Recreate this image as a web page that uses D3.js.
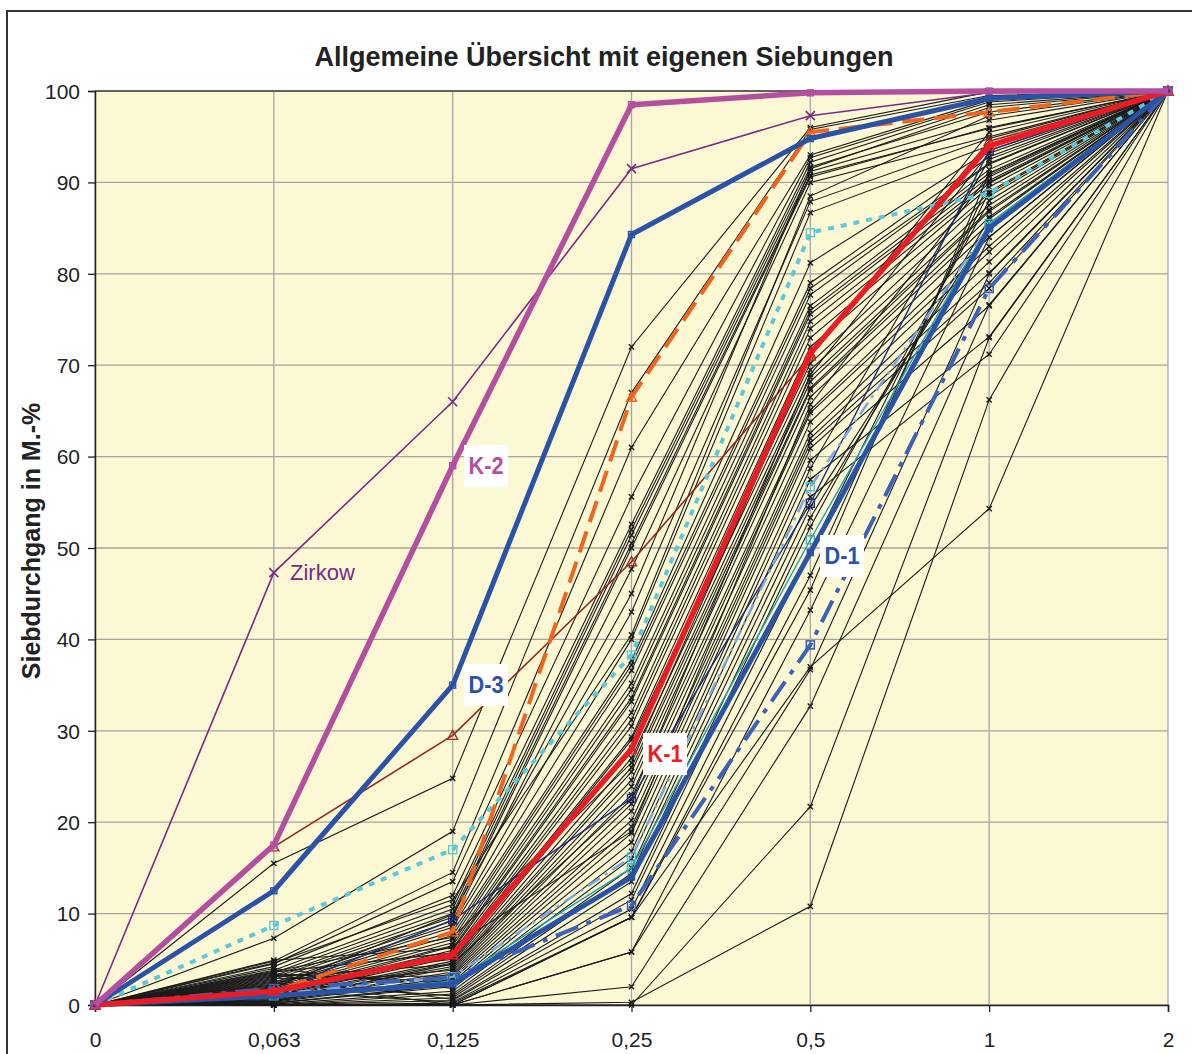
<!DOCTYPE html>
<html><head><meta charset="utf-8">
<script src="https://cdn.jsdelivr.net/npm/d3@7"></script>
<style>
body{margin:0;background:#fff;}
svg{display:block;font-family:"Liberation Sans",Arial,sans-serif;}
</style></head>
<body><svg id="chart" width="1192" height="1054"></svg>
<script>
// ---- data ----
const categories = ["0","0,063","0,125","0,25","0,5","1","2"];
const yTicks = [0,10,20,30,40,50,60,70,80,90,100];

// black sieve curves (values at 0,063 / 0,125 / 0,25 / 0,5 / 1); start 0, end 100
const blackSeries = [
  [15.5,24.8,72,96,99.9],[7.3,19,67,95.8,99.5],[4.8,14.5,61,93,99],[4.5,13.5,55.6,92.7,98.8],
  [4.2,12,52.6,92.2,98.5],[3.8,11,52,91.7,97.7],[3.5,10.5,51.4,91.2,96.8],[3.2,10,50.5,90.8,95.9],
  [3,9.6,50,90.6,96],[2.8,9.2,47.7,90,95],[2.5,8.8,43,87.9,94.8],[2.3,8.5,40,86.7,94],
  [2.2,8,37.7,81.2,93.5],[2,7.6,37.2,79,92.8],[1.8,7.2,36.6,78.4,92.1],[1.7,6.8,35.2,77.7,92],
  [1.5,6.5,34.5,76.5,91.4],[4.9,6.2,33.6,76,91],[1.3,6,33.2,75.6,90.6],[3.6,5.7,32,74.8,90.2],
  [1.1,5.4,31.2,74,89.9],[1,5.2,30.5,73,89.5],[2.6,5,29.3,72,88.8],[0.9,4.8,29,70.2,88.5],
  [0.8,4.6,28.1,69.5,87.5],[3.1,4.4,27,68.7,87],[0.7,4.2,26,68.2,86.8],[0.6,4,25.5,67.5,86.2],
  [2.1,3.8,24.6,67.3,85.5],[0.5,3.6,23.9,66.5,84.8],[0.5,3.4,23,65.1,84],[2.9,3.2,22,64.8,83],
  [0.4,3,21.2,63.8,82.4],[0.3,2.8,20.2,62.6,81.3],[3.4,2.5,19.5,62,80.1],[0.2,2.2,18.8,61.5,79],
  [0.2,2,17.8,60.9,78.4],[4,1.8,16.8,59.6,76.5],[0.1,1.5,16,58.7,92.5],[0,1.2,15,57.5,73.1],
  [2.4,1,14.4,55.6,71.2],[0,0.8,13.5,54.5,85],[3.3,0.6,12.2,53.3,86],[0,0.5,11.5,52.3,88],
  [1.6,0.3,10.5,49.6,89],[0,0.2,9.6,47,90],[2.7,0,9.6,45.4,91],[0,0,5.8,43.2,84],
  [0,0,2,32.7,76.6],[0,0,0.3,10.8,66.2],[0,0,0,21.7,73],[0,0,9.6,37,54.3],
  [0,0,5.8,36.7,80],[4.6,11.5,40.5,88.5,97.3],[1.9,9.9,45,91.5,98.2],[0.4,4.5,22.5,69,93.2],
  [3.7,7.4,26.5,71,95.5],[1.2,6.4,19,65.7,90.8]
];

const zirkow   = [0,47.3,66,91.5,97.3,99.8,100];
const k2       = [0,17.5,59,98.5,99.8,100,100];
const d3s      = [0,12.5,35,84.3,94.8,99.2,100];
const brownTri = [0,17.3,29.5,48.5,71,94.5,100];
const orangeDash = [0,1.5,8,66.5,95.5,97.7,100];
const cyanDot  = [0,8.7,17,38.3,84.5,88.8,100];
const blueDashDot = [0,1.8,3,10.9,39.4,78.4,100];
const lightBlueDashDot = [0,1.2,3.1,16.2,56.7,85.2,100];
const navyThin = [0,1.5,9.3,22.6,54.9,93.5,100];
const tealThin = [0,1,2.6,15,50.9,85.5,100];
const k1       = [0,1.5,5.5,28,71.3,94,100];
const d1       = [0,1,2.3,14,49.5,85,100];

// ---- drawing ----
const svg = d3.select("#chart");
const x = d3.scalePoint().domain(categories).range([95,1168]);
const y = d3.scaleLinear().domain([0,100]).range([1005,91]);

svg.append("rect").attr("x",7).attr("y",11).attr("width",1200).attr("height",1100)
  .attr("fill","#fff").attr("stroke","#333").attr("stroke-width",2);

svg.append("rect").attr("x",x(categories[0])).attr("y",y(100))
  .attr("width",x(categories[6])-x(categories[0])).attr("height",y(0)-y(100))
  .attr("fill","#FBF8D3");

const grid = svg.append("g");
yTicks.forEach(t=>grid.append("line").attr("x1",x(categories[0])).attr("x2",x(categories[6]))
  .attr("y1",y(t)).attr("y2",y(t)).attr("stroke","#A5A5A0").attr("stroke-width",1.3));
categories.forEach(c=>grid.append("line").attr("x1",x(c)).attr("x2",x(c))
  .attr("y1",y(0)).attr("y2",y(100)).attr("stroke","#A5A5A5").attr("stroke-width",1.3));
svg.append("line").attr("x1",x(categories[0])).attr("x2",x(categories[6]))
  .attr("y1",y(100)).attr("y2",y(100)).attr("stroke","#444").attr("stroke-width",1.3);

const yAxis = svg.append("g").attr("transform",`translate(${x(categories[0])},0)`)
  .call(d3.axisLeft(y).tickValues(yTicks).tickSize(7).tickPadding(8));
const xAxis = svg.append("g").attr("transform",`translate(0,${y(0)})`)
  .call(d3.axisBottom(x).tickSize(7).tickPadding(20));
[yAxis,xAxis].forEach(a=>{
  a.selectAll("path").attr("stroke","#222").attr("stroke-width",1.5);
  a.selectAll("line").attr("stroke","#222").attr("stroke-width",1.3);
  a.selectAll("text").attr("font-size",21).attr("fill","#222")
   .attr("font-family","'Liberation Sans',Arial,sans-serif");
});
yAxis.selectAll("text").attr("dy","0.35em");

const line = d3.line().x((d,i)=>x(categories[i])).y(d=>y(d));
const blackFull = blackSeries.map(s=>[0,...s,100]);

function crosses(g,s,color,r,w){
  s.forEach((v,i)=>{
    const cx=x(categories[i]), cy=y(v);
    g.append("path").attr("d",`M${cx-r},${cy-r}L${cx+r},${cy+r}M${cx-r},${cy+r}L${cx+r},${cy-r}`)
      .attr("stroke",color).attr("stroke-width",w);
  });
}
function squares(g,s,color,r,w){
  s.forEach((v,i)=>{
    g.append("rect").attr("x",x(categories[i])-r).attr("y",y(v)-r).attr("width",2*r).attr("height",2*r)
      .attr("fill","none").attr("stroke",color).attr("stroke-width",w);
  });
}
function tris(g,s,color,r,w){
  s.forEach((v,i)=>{
    const cx=x(categories[i]), cy=y(v);
    g.append("path").attr("d",`M${cx},${cy-r}L${cx+r},${cy+r*0.8}L${cx-r},${cy+r*0.8}Z`)
      .attr("fill","none").attr("stroke",color).attr("stroke-width",w);
  });
}
const gBlack = svg.append("g");
blackFull.forEach(s=>{
  gBlack.append("path").attr("d",line(s)).attr("fill","none")
    .attr("stroke","#1a1a1a").attr("stroke-width",1.1);
});
blackFull.forEach(s=>crosses(gBlack,s,"#1a1a1a",2.6,1.4));

const gc = svg.append("g");
function series(s,color,w,dash){
  gc.append("path").attr("d",line(s)).attr("fill","none").attr("stroke",color)
    .attr("stroke-width",w).attr("stroke-dasharray",dash||null).attr("stroke-linejoin","round");
}
series(brownTri,"#8E2A1C",1.6); tris(gc,brownTri,"#A0301E",5,1.4);
series(navyThin,"#1B2A7A",1.4); squares(gc,navyThin,"#1B2A7A",4,1.4);
series(tealThin,"#1FA3A8",1.4); squares(gc,tealThin,"#2AB5C0",4,1.4);
series(lightBlueDashDot,"#7FA6DA",2.5,"14,6,3,6"); squares(gc,lightBlueDashDot,"#3CC0D8",4,1.4);
series(cyanDot,"#5CC8DC",4,"6,7"); squares(gc,cyanDot,"#5CC8DC",4,1.4);
series(orangeDash,"#F0641E",4,"22,10"); tris(gc,orangeDash,"#F0641E",5,1.4);
series(blueDashDot,"#3C62B8",4,"24,9,5,9"); squares(gc,blueDashDot,"#3C62B8",4,1.6);
series(zirkow,"#7A2A86",1.6); crosses(gc,zirkow,"#7A2A86",4.5,1.6);
series(d1,"#2A52A6",5); squares(gc,d1,"#2A52A6",3,1.4);
series(k1,"#EC1C24",5.5); tris(gc,k1,"#EC1C24",5,1.4);
series(d3s,"#2A52A6",5); squares(gc,d3s,"#2A52A6",3,1.4);
series(k2,"#B44FA0",5.5); squares(gc,k2,"#B44FA0",3,1.4);

// labels
function label(txt,cx,cy,color){
  svg.append("rect").attr("x",cx-5).attr("y",cy-21).attr("width",44).attr("height",42).attr("fill","#fff");
  svg.append("text").attr("x",cx+17).attr("y",cy+8).attr("text-anchor","middle").attr("fill",color)
    .attr("font-size",23).attr("font-weight","bold").attr("textLength",35).attr("lengthAdjust","spacingAndGlyphs").text(txt);
}
label("K-2",469,466,"#B44FA0");
label("D-3",469,685,"#2A52A6");
label("K-1",648,754,"#EC1C24");
label("D-1",825,556,"#2A52A6");
svg.append("text").attr("x",290).attr("y",580).attr("fill","#7A2A86").attr("font-size",22).text("Zirkow");

svg.append("text").attr("x",604).attr("y",66).attr("text-anchor","middle").attr("font-size",27)
  .attr("font-weight","bold").attr("fill","#222").text("Allgemeine Übersicht mit eigenen Siebungen");
svg.append("text").attr("transform","translate(40,541) rotate(-90)").attr("text-anchor","middle")
  .attr("font-size",25).attr("font-weight","bold").attr("fill","#222").text("Siebdurchgang in M.-%");
</script></body></html>
